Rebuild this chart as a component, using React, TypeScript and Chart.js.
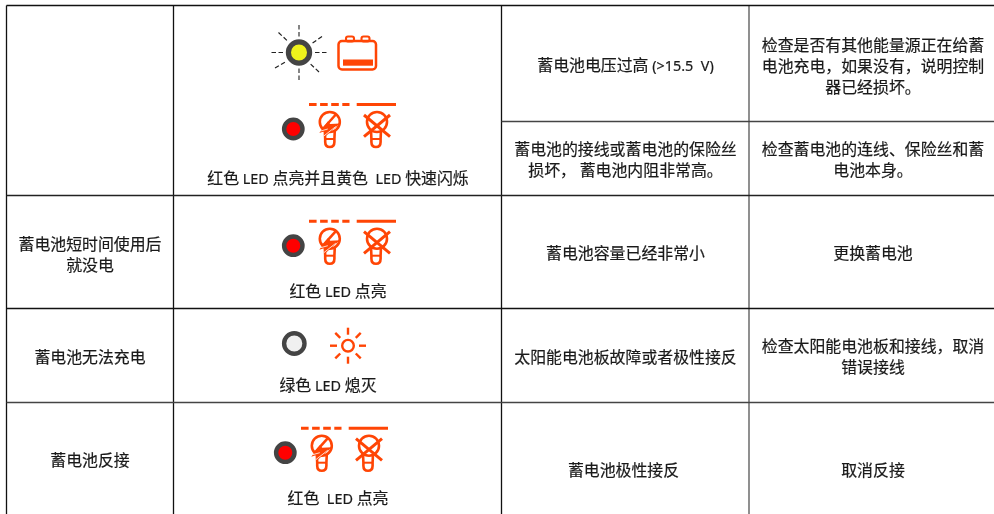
import React, { useEffect, useRef } from "react";
import { Chart, registerables } from "chart.js";

Chart.register(...registerables);

const ORANGE = "#ff4505";
const CJK_FONT = '15.9px "Noto Sans CJK SC", sans-serif';
const LATIN_FONT = '14.4px "Noto Sans", sans-serif';

// Table structure
const columnEdges = [6.5, 173.5, 501.5, 749, 994];
const rowEdges = [5.5, 121.5, 195.5, 308.5, 402.5, 514];

// Cell texts: [text, column centre, centre y]
const firstColumnTexts: [string, number, number][] = [
  ["蓄电池短时间使用后", 90, 244],
  ["就没电", 90, 265],
  ["蓄电池无法充电", 90, 357],
  ["蓄电池反接", 90, 460],
];
const ledLabels: [string, number, number][] = [
  ["红色 LED 点亮并且黄色  LED 快速闪烁", 338, 178.5],
  ["红色 LED 点亮", 338, 291.5],
  ["绿色 LED 熄灭", 328, 385],
  ["红色  LED 点亮", 338, 498.5],
];
const causeTexts: [string, number, number][] = [
  ["蓄电池电压过高 (>15.5  V)", 625.5, 65],
  ["蓄电池的接线或蓄电池的保险丝", 625.5, 149.5],
  ["损坏， 蓄电池内阻非常高。", 625.5, 170.5],
  ["蓄电池容量已经非常小", 625.5, 253],
  ["太阳能电池板故障或者极性接反", 625.5, 357],
  ["蓄电池极性接反", 623.5, 470],
];
const remedyTexts: [string, number, number][] = [
  ["检查是否有其他能量源正在给蓄", 873, 45],
  ["电池充电，如果没有，说明控制", 873, 66],
  ["器已经损坏。", 873, 87],
  ["检查蓄电池的连线、保险丝和蓄", 873, 149.5],
  ["电池本身。", 873, 170.5],
  ["更换蓄电池", 873, 253],
  ["检查太阳能电池板和接线，取消", 873, 346],
  ["错误接线", 873, 367],
  ["取消反接", 873, 470],
];

// LED indicators
const yellowLeds = [{ x: 299, y: 52.5 }];
const redLeds = [
  { x: 293.3, y: 129 },
  { x: 293.3, y: 245.7 },
  { x: 285.3, y: 452.7 },
];
const offLeds = [{ x: 294.3, y: 343.5 }];
const batteryIcons = [{ x: 337.5, y: 35.5 }];
const sunIcons = [{ x: 348, y: 345.7 }];

const gridSegments = () => {
  const [x0, x1, x2, x3, x4] = columnEdges;
  const [y0, y1, y2, y3, y4, y5] = rowEdges;
  const seg = (ax: number, ay: number, bx: number, by: number, color: string, w = 1.3) => ({
    type: "line" as const,
    data: [{ x: ax, y: ay }, { x: bx, y: by }],
    borderColor: color,
    borderWidth: w,
    pointRadius: 0,
    order: 5,
  });
  return [
    seg(x0, y0, x4, y0, "#111"),
    seg(x2, y1, x4, y1, "#444"),
    seg(x0, y2, x4, y2, "#222"),
    seg(x0, y3, x4, y3, "#111"),
    seg(x0, y4, x4, y4, "#444", 1.6),
    seg(x0, y0, x0, y5, "#111"),
    seg(x1, y0, x1, y5, "#111"),
    seg(x2, y0, x2, y5, "#111"),
    seg(x3, y0, x3, y5, "#555"),
  ];
};

const led = (data: { x: number; y: number }[], fill: string, radius: number, border: number) => ({
  type: "scatter" as const,
  data,
  backgroundColor: fill,
  borderColor: "#444444",
  borderWidth: border,
  pointRadius: radius,
  order: 1,
});

function stroke(ctx: CanvasRenderingContext2D, w = 2.6, color = ORANGE) {
  ctx.strokeStyle = color;
  ctx.lineWidth = w;
  ctx.stroke();
}

function line(ctx: CanvasRenderingContext2D, a: number, b: number, c: number, d: number, w = 2.6, color = ORANGE) {
  ctx.beginPath();
  ctx.moveTo(a, b);
  ctx.lineTo(c, d);
  stroke(ctx, w, color);
}

function bulbBase(ctx: CanvasRenderingContext2D, cx: number, cy: number) {
  ctx.beginPath();
  ctx.moveTo(cx - 5, cy + 8);
  ctx.lineTo(cx - 4.6, cy + 17);
  ctx.lineTo(cx - 4.6, cy + 20);
  ctx.quadraticCurveTo(cx - 4.6, cy + 25, cx, cy + 25);
  ctx.quadraticCurveTo(cx + 4.6, cy + 25, cx + 4.6, cy + 20);
  ctx.lineTo(cx + 4.6, cy + 17);
  ctx.lineTo(cx + 5, cy + 8);
  stroke(ctx);
  line(ctx, cx - 5, cy + 17, cx + 5, cy + 17, 2);
}

function bulbBolt(ctx: CanvasRenderingContext2D, cx: number, cy: number) {
  ctx.beginPath();
  ctx.arc(cx, cy, 10, 0, Math.PI * 2);
  stroke(ctx);
  bulbBase(ctx, cx, cy);
  line(ctx, cx - 7, cy + 7, cx + 6.5, cy - 8);
  // lightning wedge
  ctx.beginPath();
  ctx.moveTo(cx + 10, cy + 1.5);
  ctx.lineTo(cx + 0.5, cy + 2);
  ctx.lineTo(cx - 2, cy - 0.5);
  ctx.lineTo(cx - 10.5, cy + 11);
  ctx.lineTo(cx - 3, cy + 8.5);
  ctx.lineTo(cx - 5, cy + 15);
  ctx.closePath();
  ctx.fillStyle = ORANGE;
  ctx.fill();
  ctx.strokeStyle = "#fff";
  ctx.lineWidth = 0.8;
  ctx.beginPath();
  ctx.moveTo(cx - 6, cy + 14);
  ctx.lineTo(cx + 6, cy + 4.5);
  ctx.moveTo(cx - 9, cy + 9);
  ctx.lineTo(cx - 2, cy + 7);
  ctx.stroke();
}

function bulbCross(ctx: CanvasRenderingContext2D, cx: number, cy: number) {
  ctx.beginPath();
  ctx.arc(cx, cy, 10, 0, Math.PI * 2);
  stroke(ctx);
  bulbBase(ctx, cx - 1, cy);
  line(ctx, cx - 13, cy - 7, cx + 13, cy + 14.7, 3);
  line(ctx, cx + 13, cy - 7, cx - 13, cy + 14.7, 3);
}

function loadGroup(ctx: CanvasRenderingContext2D, ledX: number, ledY: number) {
  const dashY = ledY - 24.5;
  const sx = ledX + 15.7;
  ctx.save();
  ctx.setLineDash([7.6, 3.5]);
  line(ctx, sx, dashY, sx + 40.5, dashY, 3);
  ctx.restore();
  line(ctx, sx + 47.7, dashY, sx + 87, dashY, 3);
  bulbBolt(ctx, ledX + 36.5, ledY - 7);
  bulbCross(ctx, ledX + 83.7, ledY - 7);
}

function battery(ctx: CanvasRenderingContext2D, x: number, y: number) {
  ctx.beginPath();
  ctx.roundRect(x + 1, y + 5.5, 37.5, 28.5, 3.5);
  stroke(ctx, 2.5);
  ctx.beginPath();
  ctx.roundRect(x + 8.5, y + 1, 8, 5, 2);
  stroke(ctx, 2.1);
  ctx.beginPath();
  ctx.roundRect(x + 24, y + 1, 8, 5, 2);
  stroke(ctx, 2.1);
  ctx.fillStyle = ORANGE;
  ctx.fillRect(x + 5.5, y + 24, 30, 6.2);
}

function sun(ctx: CanvasRenderingContext2D, cx: number, cy: number) {
  ctx.beginPath();
  ctx.arc(cx, cy, 5.8, 0, Math.PI * 2);
  stroke(ctx, 2.4);
  for (let i = 0; i < 8; i++) {
    const a = (i * Math.PI) / 4;
    line(ctx, cx + 11 * Math.cos(a), cy + 11 * Math.sin(a), cx + 18 * Math.cos(a), cy + 18 * Math.sin(a), 2.4);
  }
}

function flashRays(ctx: CanvasRenderingContext2D, cx: number, cy: number) {
  ctx.save();
  ctx.setLineDash([4.5, 2.5]);
  const rays: [number, number, number, number][] = [
    [0, -27.5, 0, -14],
    [0, 27.5, 0, 14],
    [-27.5, 0, -14, 0],
    [27.5, 0, 14, 0],
  ];
  rays.forEach(([a, b, c, d]) => line(ctx, cx + a, cy + b, cx + c, cy + d, 1.1, "#222"));
  line(ctx, cx - 20.5, cy - 20, cx - 12, cy - 12, 1.2, "#222");
  line(ctx, cx + 23, cy - 16, cx + 13, cy - 9, 1.2, "#222");
  line(ctx, cx - 24, cy + 15.5, cx - 13, cy + 9, 1.2, "#222");
  line(ctx, cx + 20, cy + 19.5, cx + 11, cy + 11, 1.2, "#222");
  ctx.restore();
}

function mixedText(ctx: CanvasRenderingContext2D, text: string, cx: number, cy: number) {
  const runs = text.match(/[\x00-\x7f]+|[^\x00-\x7f]+/g) || [];
  const fontOf = (r: string) => (r.charCodeAt(0) < 128 ? LATIN_FONT : CJK_FONT);
  const widths = runs.map((r) => {
    ctx.font = fontOf(r);
    return ctx.measureText(r).width;
  });
  let x = cx - widths.reduce((a, b) => a + b, 0) / 2;
  const base = cy + 5.7;
  runs.forEach((r, i) => {
    ctx.font = fontOf(r);
    ctx.fillText(r, x, base);
    ctx.strokeText(r, x, base);
    x += widths[i];
  });
}

const tablePlugin = {
  id: "tableContent",
  afterDatasetsDraw(chart: Chart) {
    const { ctx, scales } = chart;
    const X = (v: number) => scales.x.getPixelForValue(v);
    const Y = (v: number) => scales.y.getPixelForValue(v);
    ctx.save();
    ctx.textAlign = "left";
    ctx.textBaseline = "alphabetic";
    ctx.fillStyle = "#1a1a1a";
    ctx.strokeStyle = "#1a1a1a";
    ctx.lineWidth = 0.2;
    [...firstColumnTexts, ...causeTexts, ...remedyTexts, ...ledLabels].forEach(([t, x, y]) => {
      mixedText(ctx, t, X(x), Y(y));
    });
    flashRays(ctx, X(yellowLeds[0].x), Y(yellowLeds[0].y));
    redLeds.forEach((p) => loadGroup(ctx, X(p.x), Y(p.y)));
    batteryIcons.forEach((p) => battery(ctx, X(p.x), Y(p.y)));
    sunIcons.forEach((p) => sun(ctx, X(p.x), Y(p.y)));
    ctx.restore();
  },
};

export default function App() {
  const ref = useRef<HTMLCanvasElement>(null);
  useEffect(() => {
    if (!ref.current) return;
    const chart = new Chart(ref.current, {
      type: "scatter",
      data: {
        datasets: [
          ...gridSegments(),
          led(yellowLeds, "#eef21c", 10.6, 5.2),
          led(redLeds, "#ff0000", 9.2, 4.4),
          led(offLeds, "#f0f0f0", 10.2, 4.4),
        ] as any,
      },
      options: {
        animation: false,
        responsive: false,
        events: [],
        layout: { padding: 0, autoPadding: false },
        plugins: { legend: { display: false }, tooltip: { enabled: false }, title: { display: false } },
        scales: {
          x: { type: "linear", min: 0, max: 994, display: false },
          y: { type: "linear", min: 0, max: 514, reverse: true, display: false },
        },
      },
      plugins: [tablePlugin],
    });
    return () => chart.destroy();
  }, []);
  return (
    <div style={{ position: "fixed", left: 0, top: 0, width: 994, height: 514, background: "#fff" }}>
      <canvas ref={ref} width={994} height={514} style={{ display: "block" }} />
    </div>
  );
}
